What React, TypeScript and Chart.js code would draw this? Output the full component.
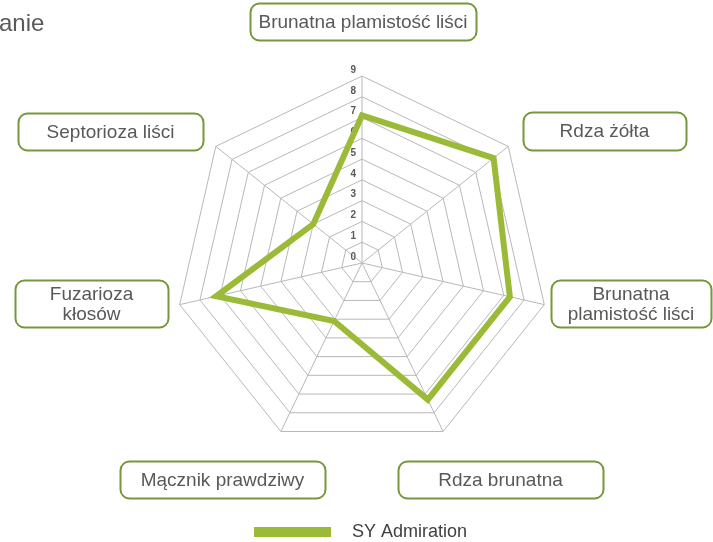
import React, { useEffect, useRef } from "react";
import { Chart, registerables } from "chart.js";

Chart.register(...registerables);

const categories: string[][] = [
  ["Brunatna plamistość liści"],
  ["Rdza żółta"],
  ["Brunatna", "plamistość liści"],
  ["Rdza brunatna"],
  ["Mącznik prawdziwy"],
  ["Fuzarioza", "kłosów"],
  ["Septorioza liści"],
];
const seriesName = "SY Admiration";
const seriesValues = [7.1, 8.1, 7.3, 7.3, 3.1, 7.2, 3];
const tickValues = [0, 1, 2, 3, 4, 5, 6, 7, 8, 9];
const titleText = "anie";

// layout of the boxed category labels: [x, y, w, h]
const LABEL_BOXES: number[][] = [
  [250, 3, 226, 37],
  [523, 112, 163, 38],
  [551, 280, 160, 47],
  [398, 461, 205, 37],
  [120, 461, 205, 37],
  [15, 280, 153, 47],
  [18, 113, 185, 37],
];

const GREEN = "#9BBB38";
const BOX_GREEN = "#76973A";
const TEXT = "#595959";
const FONT = "'Liberation Sans', Arial, Helvetica, sans-serif";

function roundRect(ctx: CanvasRenderingContext2D, x: number, y: number, w: number, h: number, r: number) {
  ctx.beginPath();
  ctx.moveTo(x + r, y);
  ctx.lineTo(x + w - r, y);
  ctx.arcTo(x + w, y, x + w, y + r, r);
  ctx.lineTo(x + w, y + h - r);
  ctx.arcTo(x + w, y + h, x + w - r, y + h, r);
  ctx.lineTo(x + r, y + h);
  ctx.arcTo(x, y + h, x, y + h - r, r);
  ctx.lineTo(x, y + r);
  ctx.arcTo(x, y, x + r, y, r);
  ctx.closePath();
}

const decorPlugin = {
  id: "decor",
  beforeDatasetsDraw(chart: any) {
    const ctx: CanvasRenderingContext2D = chart.ctx;
    const scale = chart.scales.r;
    ctx.save();
    ctx.font = `bold 10px ${FONT}`;
    ctx.fillStyle = "#595959";
    ctx.textAlign = "right";
    ctx.textBaseline = "middle";
    tickValues.forEach((v) => {
      const d = scale.getDistanceFromCenterForValue(v);
      ctx.fillText(String(v), scale.xCenter - 6, scale.yCenter - d - 6);
    });
    ctx.restore();
  },
  afterDraw(chart: any) {
    const ctx: CanvasRenderingContext2D = chart.ctx;
    ctx.save();
    // title fragment
    ctx.font = `24px ${FONT}`;
    ctx.fillStyle = TEXT;
    ctx.textAlign = "left";
    ctx.textBaseline = "alphabetic";
    ctx.fillText(titleText, -1, 31);

    // category boxes
    ctx.font = `19px ${FONT}`;
    categories.forEach((lines, i) => {
      const [x, y, w, h] = LABEL_BOXES[i];
      roundRect(ctx, x + 0.5, y + 0.5, w, h, 9);
      ctx.fillStyle = "#ffffff";
      ctx.fill();
      ctx.lineWidth = 2;
      ctx.strokeStyle = BOX_GREEN;
      ctx.stroke();
      ctx.fillStyle = TEXT;
      ctx.textAlign = "center";
      ctx.textBaseline = "middle";
      const lh = 20;
      const cy = y + h / 2 + 1 - ((lines.length - 1) * lh) / 2;
      lines.forEach((t, k) => ctx.fillText(t, x + w / 2, cy + k * lh));
    });

    // legend
    ctx.fillStyle = GREEN;
    ctx.fillRect(254, 527, 77, 10);
    ctx.fillStyle = "#404040";
    ctx.font = `18px ${FONT}`;
    ctx.textAlign = "left";
    ctx.textBaseline = "middle";
    ctx.fillText(seriesName, 352, 532);
    ctx.restore();
  },
};

export default function App() {
  const ref = useRef<HTMLCanvasElement>(null);
  useEffect(() => {
    document.body.style.margin = "0";
    const chart = new Chart(ref.current!, {
      type: "radar",
      data: {
        labels: categories.map((c) => c.join(" ")),
        datasets: [
          {
            label: seriesName,
            data: seriesValues,
            borderColor: GREEN,
            backgroundColor: "rgba(0,0,0,0)",
            borderWidth: 6,
            borderJoinStyle: "miter",
            pointRadius: 0,
            pointHoverRadius: 0,
            fill: false,
            tension: 0,
          },
        ],
      },
      options: {
        responsive: false,
        animation: false,
        devicePixelRatio: 1,
        layout: { padding: { left: 175, right: 164, top: 76, bottom: 92 } },
        plugins: {
          legend: { display: false },
          title: { display: false },
          tooltip: { enabled: false },
        },
        scales: {
          r: {
            min: 0,
            max: 9,
            ticks: { display: false, stepSize: 1 },
            pointLabels: { display: false },
            grid: { color: "#B8B8B8", lineWidth: 1 },
            angleLines: { color: "#B8B8B8", lineWidth: 1 },
          },
        },
      },
      plugins: [decorPlugin],
    });
    return () => chart.destroy();
  }, []);
  return (
    <div style={{ width: 713, height: 542 }}>
      <canvas ref={ref} width={713} height={542} />
    </div>
  );
}
